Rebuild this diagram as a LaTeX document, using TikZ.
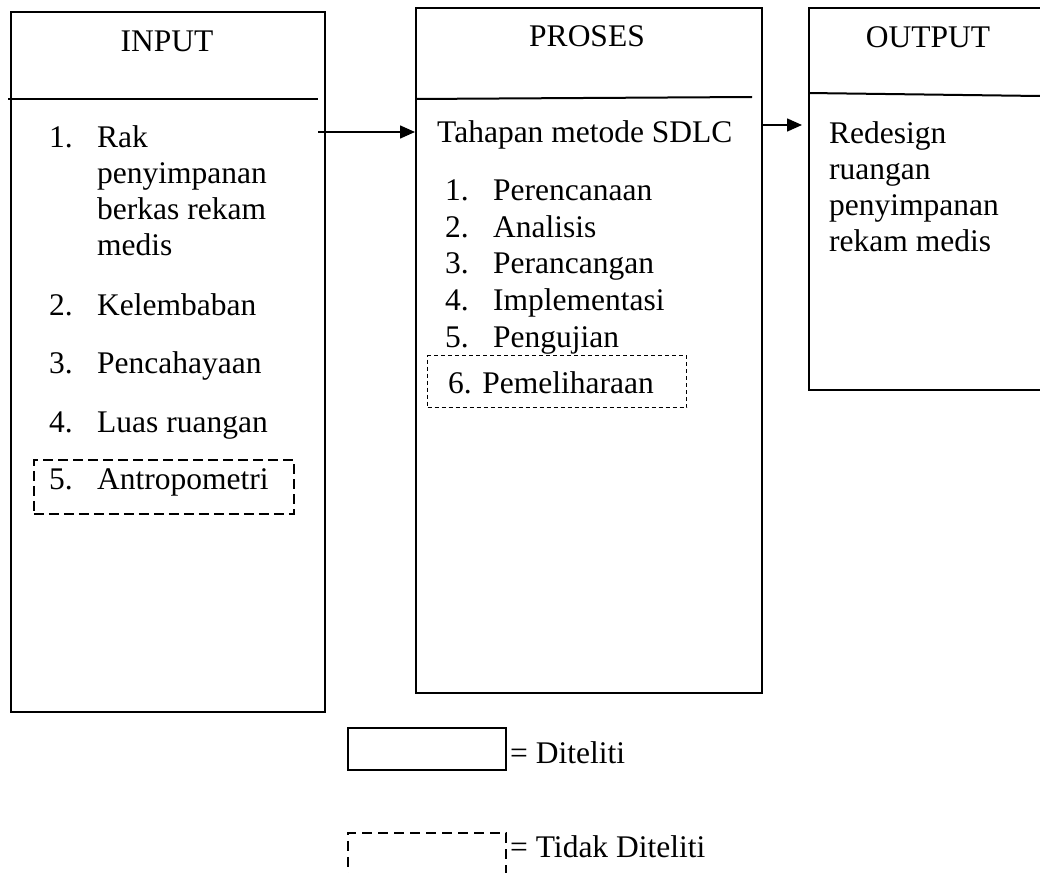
\documentclass[tikz,border=0pt]{standalone}
\usepackage{fontspec}
\setmainfont{Liberation Serif}
\usetikzlibrary{arrows.meta}
\begin{document}
\begin{tikzpicture}[x=1pt,y=-1pt,
  box/.style={draw, line width=1.6pt, inner sep=0pt, anchor=north west},
  hline/.style={line width=2pt},
  txt/.style={inner sep=0pt, anchor=base west, font=\fontsize{31.5}{36}\selectfont},
  ttl/.style={inner sep=0pt, anchor=base, font=\fontsize{31.5}{36}\selectfont},
  conn/.style={line width=1.5pt, -{Triangle[length=15pt,width=13pt]}},
  dashA/.style={draw, line width=1.6pt, dash pattern=on 10pt off 5pt, inner sep=0pt, anchor=north west},
  dashB/.style={draw, line width=1.1pt, dash pattern=on 4pt off 3pt, inner sep=0pt, anchor=north west}]
\clip (0,0) rectangle (1040,872);
\fill[white] (0,0) rectangle (1040,872);
% boxes
\node[box, minimum width=314pt, minimum height=700pt] (input) at (10,11) {};
\node[box, minimum width=346pt, minimum height=685pt] (proses) at (415,7) {};
\node[box, minimum width=260pt, minimum height=382pt] (output) at (808,7) {};
% header lines
\coordinate (ih1) at (8,99); \coordinate (ih2) at (318,99);
\coordinate (ph1) at (415,99); \coordinate (ph2) at (752,97);
\coordinate (oh1) at (808,93); \coordinate (oh2) at (1040,96);
\draw[hline] (ih1) -- (ih2);
\draw[hline] (ph1) -- (ph2);
\draw[hline] (oh1) -- (oh2);
% titles
\node[ttl] (tin) at (167,52) {INPUT};
\node[ttl] (tpr) at (587,47) {PROSES};
\node[ttl] (tout) at (928,48) {OUTPUT};
% input items
\node[txt] (n1) at (49,147) {1.};
\node[txt] (i1a) at (97,147) {Rak};
\node[txt] (i1b) at (97,183) {penyimpanan};
\node[txt] (i1c) at (97,219) {berkas rekam};
\node[txt] (i1d) at (97,255) {medis};
\node[txt] (n2) at (49,315) {2.};
\node[txt] (i2) at (97,315) {Kelembaban};
\node[txt] (n3) at (49,373) {3.};
\node[txt] (i3) at (97,373) {Pencahayaan};
\node[txt] (n4) at (49,432) {4.};
\node[txt] (i4) at (97,432) {Luas ruangan};
\node[txt] (n5) at (49,489) {5.};
\node[txt] (i5) at (97,489) {Antropometri};
\node[dashA, minimum width=260pt, minimum height=54pt] (d5) at (33,459) {};
% proses items
\node[txt] (ptah) at (437,142) {Tahapan metode SDLC};
\node[txt] (pn1) at (445,200) {1.};
\node[txt] (p1) at (493,200) {Perencanaan};
\node[txt] (pn2) at (445,237) {2.};
\node[txt] (p2) at (493,237) {Analisis};
\node[txt] (pn3) at (445,273) {3.};
\node[txt] (p3) at (493,273) {Perancangan};
\node[txt] (pn4) at (445,310) {4.};
\node[txt] (p4) at (493,310) {Implementasi};
\node[txt] (pn5) at (445,347) {5.};
\node[txt] (p5) at (493,347) {Pengujian};
\node[txt] (p6) at (448,393) {6. Pemeliharaan};
\node[dashB, minimum width=259pt, minimum height=52pt] (d6) at (427,355) {};
% output text
\node[txt] (o1) at (829,143) {Redesign};
\node[txt] (o2) at (829,179) {ruangan};
\node[txt] (o3) at (829,215) {penyimpanan};
\node[txt] (o4) at (829,251) {rekam medis};
% connectors
\coordinate (a1s) at (318,132);
\draw[conn] (a1s) -- (a1s -| proses.west);
\coordinate (a2s) at (761,125);
\coordinate (a2e) at (802,125);
\draw[conn] (a2s) -- (a2e);
% legend
\node[box, minimum width=158pt, minimum height=42pt] (lg1) at (347,727) {};
\node[txt] (lt1) at (510,763) {= Diteliti};
\node[draw, line width=1.6pt, dash pattern=on 10pt off 6pt, inner sep=0pt, anchor=north west, minimum width=158pt, minimum height=60pt] (lg2) at (347,832) {};
\node[txt] (lt2) at (510,857) {= Tidak Diteliti};
\end{tikzpicture}
\end{document}
